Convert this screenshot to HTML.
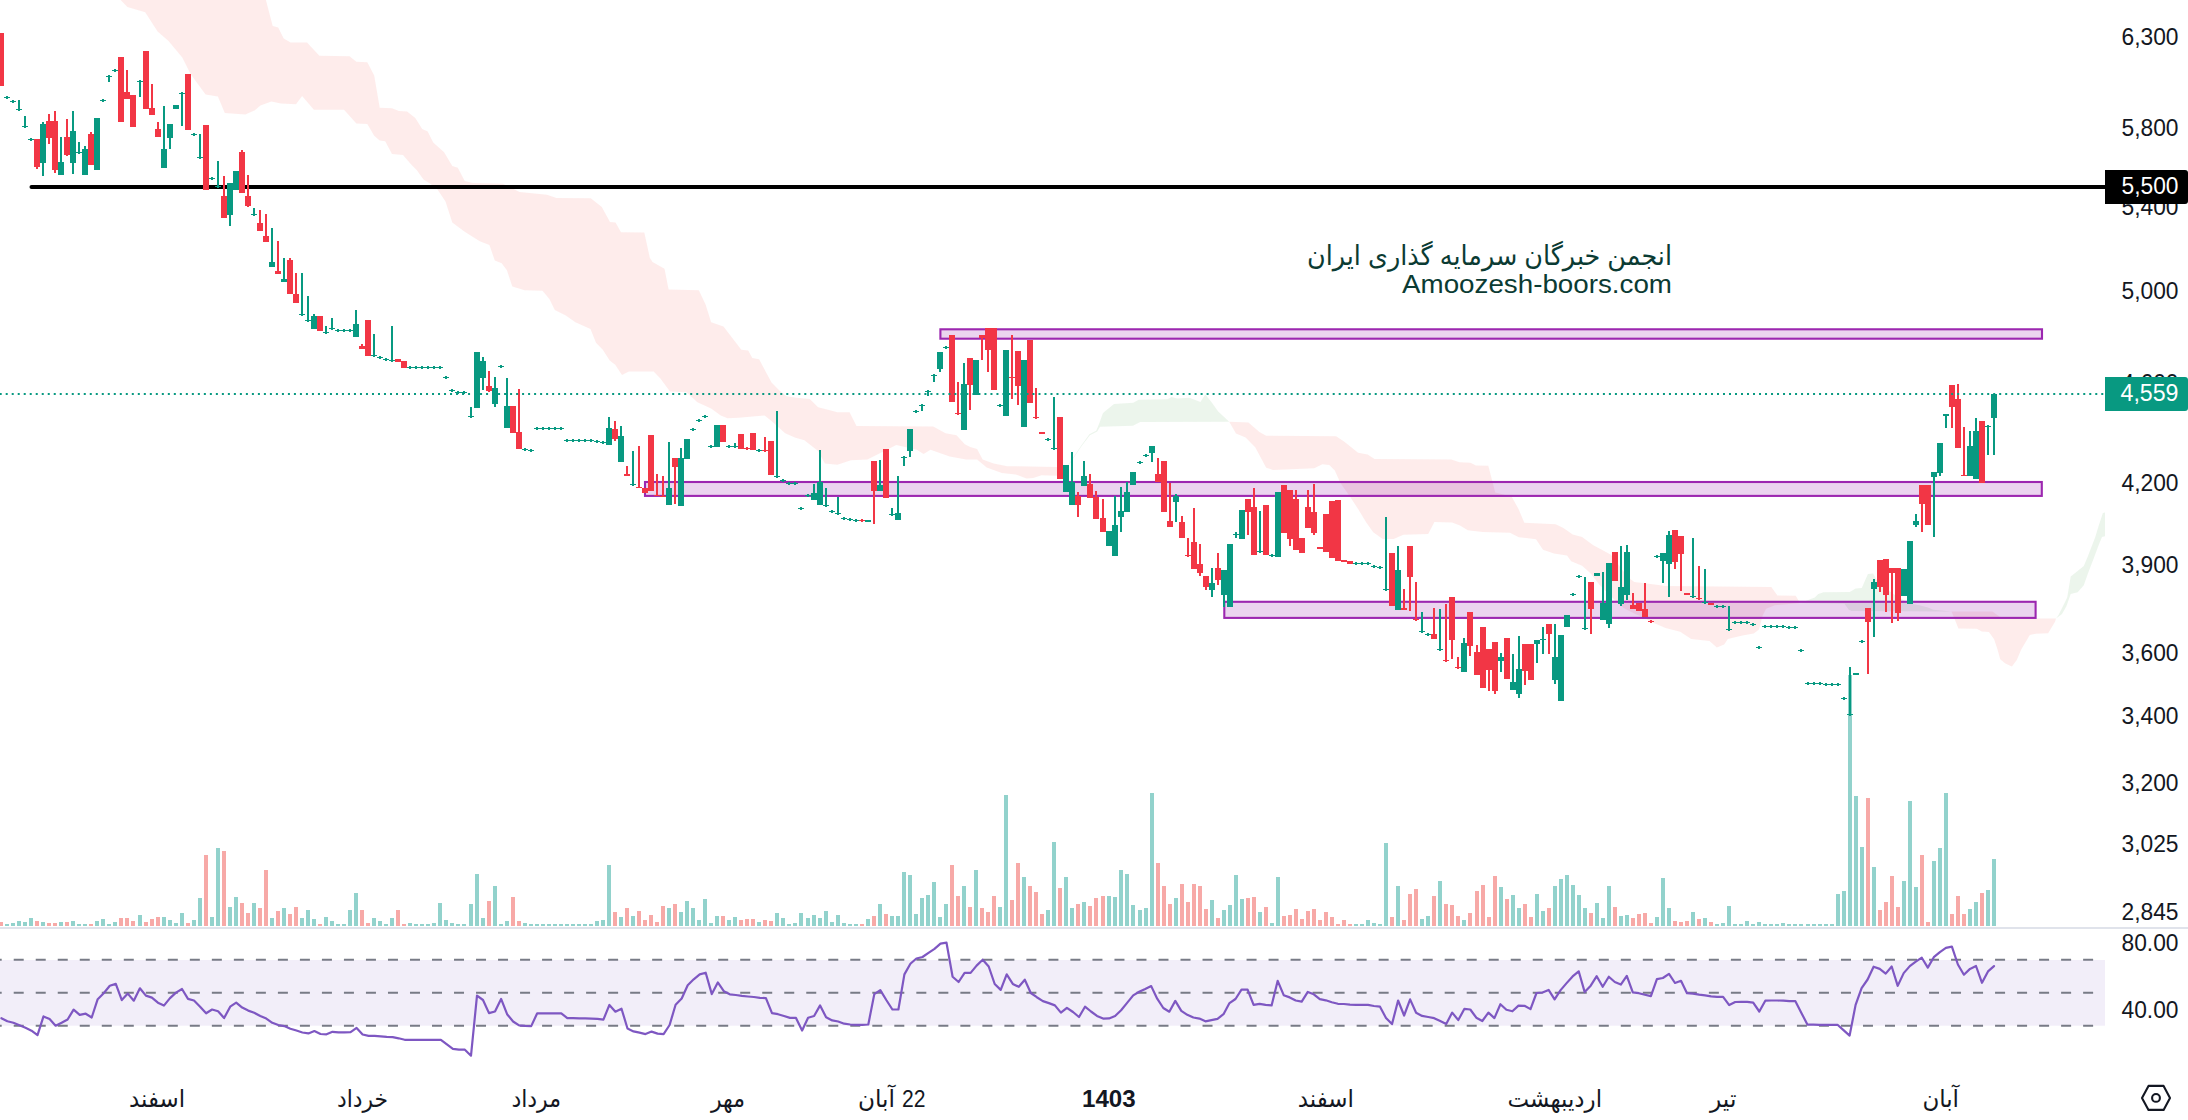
<!DOCTYPE html>
<html lang="fa"><head><meta charset="utf-8"><title>Chart</title>
<style>html,body{margin:0;padding:0;background:#fff}body{width:2188px;height:1120px;overflow:hidden}svg{display:block}text{font-family:"Liberation Sans","DejaVu Sans",sans-serif;fill:#131722}.fa{font-family:"Liberation Sans","DejaVu Sans",sans-serif}</style></head><body>
<svg width="2188" height="1120" viewBox="0 0 2188 1120">
<rect width="2188" height="1120" fill="#fff"/>
<g id="cloud">
<polygon points="265.9,0 272.7,26 278.2,27.4 283.7,38.4 290.6,42.5 307,42.5 319.4,55.7 349.5,56.2 356.4,61.7 367.3,62.2 374.2,75.4 379.7,107.8 392,108.3 398.9,111 407.1,111.6 415.3,117.9 422.2,128.9 427.7,131.6 433.2,142.6 444.1,152.2 452.3,165.9 457.8,167.8 464.7,181 472.9,182.9 503,183.7 519.5,191.9 546.9,194.7 556.5,198 590.8,198.2 601.8,207 610,222.1 615.5,222.6 621,232.2 644.3,232.5 649.8,257.7 652.5,261.9 664.5,268.8 668.6,289.4 698.8,290.2 705.6,304.4 711.1,322.3 723.5,326.4 741.3,349.7 748.2,350.5 752.3,357.9 759.1,359.3 771.5,382.6 779.7,390.8 786.5,396.3 796.1,397.7 809.8,399 818.1,407.3 829,410 837.3,412.2 849.6,412.2 856.5,425.9 933.2,426.5 945.6,433.3 956.5,435.2 964.8,444.3 970.2,447 977.1,448.9 982.6,459.4 993.6,463.5 1007.3,466.2 1056.6,467 1062,470 1062,470 1056.6,475.8 1041.5,475.3 1033.3,478 1026.5,478.6 1015.5,474.4 1001.8,473.1 986.7,467.6 977.1,459.4 966.1,459.4 949.7,456.6 930.5,449.8 923.6,453.9 916.8,449.8 896.2,445.1 889.4,448.4 867.4,459.4 851,460.2 837.3,464.8 824.9,463.5 818.1,451.1 804.4,440.2 794.8,437.4 785.2,433.3 771.5,421 764.6,415.5 738.6,417.7 727.6,418.2 720.7,415.5 711.1,408.6 697.4,402.3 686.5,392.2 670,391.4 660.4,378.5 653.6,371.6 628.9,371.6 622,374.9 615.2,364.8 609.7,360.6 602.8,349.7 596,342.8 590.5,329.1 575.4,322.3 565.8,315.4 554.8,309.9 549.4,299 542.5,290.7 524.7,290.2 512.3,286.6 506.9,270.2 501.7,263.2 494.8,260.5 489.4,244.9 479.8,241.3 464.7,231.7 452.3,222.6 445.5,201.5 437.3,189.2 430.4,183.7 423.5,179.6 416.7,170 411.2,164.5 403,154.9 392,154.1 385.2,141.2 379.7,140.4 374.2,135.7 367.3,123.9 356.4,123.4 344,109.7 313.9,109.7 302.1,96 296,104.2 281,103.6 271.4,101.5 260.4,105.6 254.9,110.2 245.3,114.6 224.8,113 217.9,96.5 205.6,94.6 190.5,74 182.3,57.6 168.5,41.1 157.6,31.5 145.2,12.3 127.4,6.9 120.6,0" fill="rgba(244,67,54,0.1)"/>
<polygon points="1062,470 1070.2,462.3 1081.1,445.8 1089.4,434.3 1096.2,430.7 1099,423.9 1103,412.9 1114,404.1 1133.2,402.8 1138.7,399.7 1167.5,399.2 1171.6,397 1177.1,398.6 1189.4,397.8 1200.4,401.9 1205.3,394.6 1211.4,401.9 1218.2,411.5 1229.2,421.7 1229.2,421.7 1140.2,422.1 1132.9,425.8 1100,426.7 1097.2,431.5 1089.9,435.2 1081.1,446.8 1070.2,463.1 1062,470" fill="rgba(67,160,71,0.1)"/>
<polygon points="1229.2,421.7 1248.4,422.5 1259.4,432.1 1266.2,435.7 1336.1,436.2 1344.4,441.7 1358.1,452.7 1367.7,454.6 1374.5,459 1451.3,459.5 1459.5,462.3 1470.5,462.8 1476,465.6 1488.3,465.8 1492.4,481.5 1495.2,492.4 1511.6,496.5 1518.5,508.9 1524.3,522.7 1555.6,524.2 1563.4,528 1572.7,534.4 1582.1,537.1 1592.9,545 1601.3,549.6 1610.9,554.7 1620.2,566.9 1628,577.2 1634.3,582 1654.6,584.6 1665.6,586 1769.9,587 1771.3,587 1777.4,595.4 1795.7,595.7 1800,602.9 1800,602.9 1774.8,605.3 1766.1,608.8 1762.6,615.8 1759,629.4 1753.7,633.4 1742.5,635.5 1727.8,639.1 1724.2,644.6 1716.8,647.4 1709.5,641 1691.2,639.1 1680.2,631.8 1665.6,628.1 1650.9,621.7 1643.6,617.2 1636.3,614.4 1623.5,608 1616.2,601.6 1599.7,585.1 1590.5,573.2 1582.1,565.8 1571.2,561.2 1567,555.5 1553.9,553.5 1543,549.7 1536,539.2 1518.8,537.2 1510,532.7 1482.5,532 1467.8,530.2 1460,525.5 1452.2,522.5 1434.4,522 1428.2,534 1403.4,534.8 1393.7,539 1382.8,539 1373.2,532.2 1366.3,522.6 1358.1,508.9 1349.9,496.5 1340.3,482.8 1334.8,470.5 1329.3,465 1322.4,464.2 1314.2,468.3 1273.1,469.9 1266.2,467.7 1255.2,447.2 1245.6,437.6 1236,433.5 1229.2,421.7" fill="rgba(244,67,54,0.1)"/>
<polygon points="1800,602.9 1814.8,597.5 1818.3,594 1823.6,592.3 1849.7,591.9 1855.7,588.4 1861.8,587.9 1867.9,574 1873.2,573.6 1877.5,581.8 1885,588 1895,595 1905,601 1912.3,604.1 1919.3,605.3 1928,607.6 1933.2,609.7 1951.5,611.4 1951.5,611.4 1851.4,611 1848.8,609.7 1844.4,603.7 1800,602.9" fill="rgba(67,160,71,0.1)"/>
<polygon points="1951.5,611.4 1992.4,611.4 1999.4,616.6 2004.6,618.4 2056,618.4 2056,618.4 2055,621.8 2048.1,633.2 2035.9,633.7 2029.8,634.9 2021.1,649.7 2016.8,660.1 2011.9,666.6 2005.4,663.6 2000.2,659.3 1997.6,649.7 1994.1,639.3 1988.9,631.9 1981.9,631.4 1976.7,628.8 1958.4,628.5 1955,620.1 1951.5,611.4" fill="rgba(244,67,54,0.1)"/>
<polygon points="2056,618.4 2058.5,614.9 2063.8,604.4 2067.2,597.5 2070.7,576.6 2075.1,573.1 2083.8,566.1 2088.1,555.7 2095.1,537.4 2098.6,526.1 2102.9,513 2105,512.5 2105,536.2 2102,536.9 2098.6,545.3 2093.4,559.2 2088.1,573.1 2083.8,585.3 2077.7,592.3 2070.7,594 2066.4,606.2 2062,614 2056,618.4" fill="rgba(67,160,71,0.1)"/>
</g>
<g id="vol" shape-rendering="crispEdges">
<path d="M5 924.2h4v1.8h-4zM11 923.3h4v2.7h-4zM17 921.2h4v4.8h-4zM23 922.2h4v3.8h-4zM29 918.1h4v7.9h-4zM41 922.2h4v3.8h-4zM59 922.2h4v3.8h-4zM71 921.2h4v4.8h-4zM77 924.2h4v1.8h-4zM83 924.2h4v1.8h-4zM95 921.2h4v4.8h-4zM101 919.2h4v6.8h-4zM107 924.2h4v1.8h-4zM113 922.2h4v3.8h-4zM138 915.2h4v10.8h-4zM162 917.2h4v8.8h-4zM168 920.1h4v5.9h-4zM174 923.3h4v2.7h-4zM180 913.2h4v12.8h-4zM192 920.1h4v5.9h-4zM198 898.2h4v27.8h-4zM210 917.2h4v8.8h-4zM216 848.2h4v77.8h-4zM228 907.1h4v18.9h-4zM234 897.1h4v28.9h-4zM252 903.1h4v22.9h-4zM270 918.1h4v7.9h-4zM282 908.1h4v17.9h-4zM300 918.1h4v7.9h-4zM306 910.3h4v15.7h-4zM312 919.2h4v6.8h-4zM324 917.2h4v8.8h-4zM330 921.2h4v4.8h-4zM336 924.2h4v1.8h-4zM342 924.2h4v1.8h-4zM348 910.3h4v15.7h-4zM354 893.2h4v32.8h-4zM372 918.1h4v7.9h-4zM378 921.2h4v4.8h-4zM384 924.2h4v1.8h-4zM390 918.1h4v7.9h-4zM408 923.3h4v2.7h-4zM414 924.2h4v1.8h-4zM420 924.2h4v1.8h-4zM426 924.2h4v1.8h-4zM432 923.3h4v2.7h-4zM438 903.1h4v22.9h-4zM444 920.1h4v5.9h-4zM450 923.3h4v2.7h-4zM456 924.2h4v1.8h-4zM462 924.2h4v1.8h-4zM469 904.2h4v21.8h-4zM475 874.2h4v51.8h-4zM481 918.1h4v7.9h-4zM493 886.1h4v39.9h-4zM499 924.2h4v1.8h-4zM505 921.2h4v4.8h-4zM523 923.3h4v2.7h-4zM529 924.2h4v1.8h-4zM535 924.2h4v1.8h-4zM541 924.2h4v1.8h-4zM547 924.2h4v1.8h-4zM553 924.2h4v1.8h-4zM559 924.2h4v1.8h-4zM565 924.2h4v1.8h-4zM571 924.2h4v1.8h-4zM577 924.2h4v1.8h-4zM583 924.2h4v1.8h-4zM589 924.2h4v1.8h-4zM595 921.2h4v4.8h-4zM601 920.1h4v5.9h-4zM607 865.2h4v60.8h-4zM619 917.2h4v8.8h-4zM631 916.1h4v9.9h-4zM667 908.1h4v17.9h-4zM679 912.1h4v13.9h-4zM685 901.1h4v24.9h-4zM691 908.1h4v17.9h-4zM697 920.1h4v5.9h-4zM703 899.1h4v26.9h-4zM709 923.3h4v2.7h-4zM715 916.1h4v9.9h-4zM727 920.1h4v5.9h-4zM733 917.2h4v8.8h-4zM757 922.2h4v3.8h-4zM775 913.2h4v12.8h-4zM781 918.1h4v7.9h-4zM787 924.2h4v1.8h-4zM793 923.3h4v2.7h-4zM799 913.2h4v12.8h-4zM806 918.1h4v7.9h-4zM812 915.2h4v10.8h-4zM818 918.1h4v7.9h-4zM824 911.2h4v14.8h-4zM830 922.2h4v3.8h-4zM836 915.2h4v10.8h-4zM842 923.3h4v2.7h-4zM848 924.2h4v1.8h-4zM854 924.2h4v1.8h-4zM866 919.2h4v6.8h-4zM878 904.2h4v21.8h-4zM890 916.1h4v9.9h-4zM896 916.1h4v9.9h-4zM902 872.2h4v53.8h-4zM908 875.1h4v50.9h-4zM914 914.1h4v11.9h-4zM920 898.2h4v27.8h-4zM926 895.2h4v30.8h-4zM932 882.2h4v43.8h-4zM938 917.2h4v8.8h-4zM944 904.2h4v21.8h-4zM962 886.1h4v39.9h-4zM974 870.2h4v55.8h-4zM998 907.1h4v18.9h-4zM1004 795.1h4v130.9h-4zM1022 877.1h4v48.9h-4zM1046 910.3h4v15.7h-4zM1052 842.2h4v83.8h-4zM1064 877.1h4v48.9h-4zM1070 908.1h4v17.9h-4zM1082 902.2h4v23.8h-4zM1107 896.2h4v29.8h-4zM1113 897.1h4v28.9h-4zM1119 870.2h4v55.8h-4zM1125 874.2h4v51.8h-4zM1131 905.1h4v20.9h-4zM1138 910.3h4v15.7h-4zM1144 908.1h4v17.9h-4zM1150 793.1h4v132.9h-4zM1174 898.2h4v27.8h-4zM1210 900.2h4v25.8h-4zM1222 910.3h4v15.7h-4zM1228 905.1h4v20.9h-4zM1234 875.1h4v50.9h-4zM1240 899.1h4v26.9h-4zM1258 912.1h4v13.9h-4zM1270 923.3h4v2.7h-4zM1276 877.1h4v48.9h-4zM1354 924.2h4v1.8h-4zM1360 924.2h4v1.8h-4zM1366 920.1h4v5.9h-4zM1372 923.3h4v2.7h-4zM1378 924.2h4v1.8h-4zM1384 843.1h4v82.9h-4zM1396 886.1h4v39.9h-4zM1420 919.2h4v6.8h-4zM1426 916.1h4v9.9h-4zM1438 881.1h4v44.9h-4zM1462 920.1h4v5.9h-4zM1499 887.2h4v38.8h-4zM1511 895.2h4v30.8h-4zM1517 908.1h4v17.9h-4zM1535 894.1h4v31.9h-4zM1541 911.2h4v14.8h-4zM1553 886.1h4v39.9h-4zM1559 879.1h4v46.9h-4zM1565 875.1h4v50.9h-4zM1571 885.2h4v40.8h-4zM1577 895.2h4v30.8h-4zM1583 908.1h4v17.9h-4zM1595 903.1h4v22.9h-4zM1601 918.1h4v7.9h-4zM1607 886.1h4v39.9h-4zM1619 916.1h4v9.9h-4zM1625 915.2h4v10.8h-4zM1655 917.2h4v8.8h-4zM1661 878.2h4v47.8h-4zM1667 908.1h4v17.9h-4zM1691 912.1h4v13.9h-4zM1703 918.1h4v7.9h-4zM1715 924.2h4v1.8h-4zM1721 923.3h4v2.7h-4zM1727 906.2h4v19.8h-4zM1733 924.2h4v1.8h-4zM1739 924.2h4v1.8h-4zM1745 921.2h4v4.8h-4zM1751 924.2h4v1.8h-4zM1757 922.2h4v3.8h-4zM1763 924.2h4v1.8h-4zM1769 924.2h4v1.8h-4zM1775 924.2h4v1.8h-4zM1781 923.3h4v2.7h-4zM1787 924.2h4v1.8h-4zM1793 924.2h4v1.8h-4zM1799 924.2h4v1.8h-4zM1806 924.2h4v1.8h-4zM1812 924.2h4v1.8h-4zM1818 924.2h4v1.8h-4zM1824 924.2h4v1.8h-4zM1830 924.2h4v1.8h-4zM1836 894.1h4v31.9h-4zM1842 891.2h4v34.8h-4zM1848 675h4v251h-4zM1854 796h4v130h-4zM1860 847.1h4v78.9h-4zM1872 867.2h4v58.8h-4zM1902 881.1h4v44.9h-4zM1908 801h4v125h-4zM1914 887.2h4v38.8h-4zM1932 861.2h4v64.8h-4zM1938 848.2h4v77.8h-4zM1944 793.1h4v132.9h-4zM1968 909.2h4v16.8h-4zM1974 902.2h4v23.8h-4zM1986 890.1h4v35.9h-4zM1992 859.2h4v66.8h-4z" fill="#92d2cc"/>
<path d="M-1 922.2h4v3.8h-4zM35 921.2h4v4.8h-4zM47 923.3h4v2.7h-4zM53 923.3h4v2.7h-4zM65 922.2h4v3.8h-4zM89 924.2h4v1.8h-4zM119 918.1h4v7.9h-4zM125 918.1h4v7.9h-4zM131 921.2h4v4.8h-4zM144 922.2h4v3.8h-4zM150 919.2h4v6.8h-4zM156 917.2h4v8.8h-4zM186 923.3h4v2.7h-4zM204 855.2h4v70.8h-4zM222 851.1h4v74.9h-4zM240 903.1h4v22.9h-4zM246 913.2h4v12.8h-4zM258 908.1h4v17.9h-4zM264 870.2h4v55.8h-4zM276 911.2h4v14.8h-4zM288 914.1h4v11.9h-4zM294 907.1h4v18.9h-4zM318 924.2h4v1.8h-4zM360 910.3h4v15.7h-4zM366 923.3h4v2.7h-4zM396 910.3h4v15.7h-4zM402 924.2h4v1.8h-4zM487 901.1h4v24.9h-4zM511 897.1h4v28.9h-4zM517 921.2h4v4.8h-4zM613 912.1h4v13.9h-4zM625 908.1h4v17.9h-4zM637 911.2h4v14.8h-4zM643 920.1h4v5.9h-4zM649 915.2h4v10.8h-4zM655 922.2h4v3.8h-4zM661 906.2h4v19.8h-4zM673 904.2h4v21.8h-4zM721 916.1h4v9.9h-4zM739 920.1h4v5.9h-4zM745 919.2h4v6.8h-4zM751 919.2h4v6.8h-4zM763 920.1h4v5.9h-4zM769 921.2h4v4.8h-4zM860 924.2h4v1.8h-4zM872 916.1h4v9.9h-4zM884 914.1h4v11.9h-4zM950 865.2h4v60.8h-4zM956 896.2h4v29.8h-4zM968 907.1h4v18.9h-4zM980 908.1h4v17.9h-4zM986 912.1h4v13.9h-4zM992 896.2h4v29.8h-4zM1010 900.2h4v25.8h-4zM1016 863.2h4v62.8h-4zM1028 886.1h4v39.9h-4zM1034 892.1h4v33.9h-4zM1040 914.1h4v11.9h-4zM1058 888.1h4v37.9h-4zM1076 904.2h4v21.8h-4zM1088 906.2h4v19.8h-4zM1094 898.2h4v27.8h-4zM1101 896.2h4v29.8h-4zM1156 863.2h4v62.8h-4zM1162 886.1h4v39.9h-4zM1168 904.2h4v21.8h-4zM1180 884.3h4v41.7h-4zM1186 902.2h4v23.8h-4zM1192 884.3h4v41.7h-4zM1198 886.1h4v39.9h-4zM1204 909.2h4v16.8h-4zM1216 918.1h4v7.9h-4zM1246 898.2h4v27.8h-4zM1252 897.1h4v28.9h-4zM1264 907.1h4v18.9h-4zM1282 916.1h4v9.9h-4zM1288 915.2h4v10.8h-4zM1294 909.2h4v16.8h-4zM1300 919.2h4v6.8h-4zM1306 911.2h4v14.8h-4zM1312 909.2h4v16.8h-4zM1318 920.1h4v5.9h-4zM1324 912.1h4v13.9h-4zM1330 917.2h4v8.8h-4zM1336 924.2h4v1.8h-4zM1342 920.1h4v5.9h-4zM1348 924.2h4v1.8h-4zM1390 917.2h4v8.8h-4zM1402 920.1h4v5.9h-4zM1408 894.1h4v31.9h-4zM1414 889.2h4v36.8h-4zM1432 896.2h4v29.8h-4zM1444 904.2h4v21.8h-4zM1450 905.1h4v20.9h-4zM1456 916.1h4v9.9h-4zM1468 913.2h4v12.8h-4zM1475 891.2h4v34.8h-4zM1481 885.2h4v40.8h-4zM1487 917.2h4v8.8h-4zM1493 876.2h4v49.8h-4zM1505 899.1h4v26.9h-4zM1523 904.2h4v21.8h-4zM1529 917.2h4v8.8h-4zM1547 908.1h4v17.9h-4zM1589 913.2h4v12.8h-4zM1613 907.1h4v18.9h-4zM1631 918.1h4v7.9h-4zM1637 914.1h4v11.9h-4zM1643 913.2h4v12.8h-4zM1649 923.3h4v2.7h-4zM1673 921.2h4v4.8h-4zM1679 922.2h4v3.8h-4zM1685 921.2h4v4.8h-4zM1697 919.2h4v6.8h-4zM1709 922.2h4v3.8h-4zM1866 798h4v128h-4zM1878 910.3h4v15.7h-4zM1884 902.2h4v23.8h-4zM1890 876.2h4v49.8h-4zM1896 907.1h4v18.9h-4zM1920 855.2h4v70.8h-4zM1926 922.2h4v3.8h-4zM1950 914.1h4v11.9h-4zM1956 896.2h4v29.8h-4zM1962 914.1h4v11.9h-4zM1980 893.2h4v32.8h-4z" fill="#f7a9a7"/>
</g>
<g id="zones" fill="rgba(156,39,176,0.2)" stroke="#9c27b0" stroke-width="2.1">
<rect x="940.4" y="329.3" width="1101.6" height="9.4"/>
<rect x="645" y="482" width="1396.8" height="13.9"/>
<rect x="1224.3" y="601.8" width="811.3" height="16.1"/>
</g>
<line x1="31.5" y1="187" x2="2105" y2="187" stroke="#000" stroke-width="4" stroke-linecap="round"/>
<g id="candles">
<path d="M4 97h6v1h-6zM6 96h2v3h-2zM10 101h6v1h-6zM12 100h2v3h-2zM16 109h6v1h-6zM18 100h2v11h-2zM22 126h6v1h-6zM24 116h2v12h-2zM28 139h6v1h-6zM30 138h2v3h-2zM40 124h6v39h-6zM42 122h2v2h-2zM42 163h2v13h-2zM58 162h6v13h-6zM60 137h2v25h-2zM70 131h6v32h-6zM72 111h2v20h-2zM72 163h2v11h-2zM76 152h6v1h-6zM78 142h2v12h-2zM82 149h6v26h-6zM84 146h2v3h-2zM94 118h6v52h-6zM100 100h6v1h-6zM102 99h2v3h-2zM106 76h6v1h-6zM108 75h2v7h-2zM112 70h6v1h-6zM114 69h2v3h-2zM137 81h6v1h-6zM139 80h2v17h-2zM161 149h6v19h-6zM163 106h2v43h-2zM167 124h6v14h-6zM169 138h2v11h-2zM173 105h6v4h-6zM179 93h6v1h-6zM181 92h2v34h-2zM191 134h6v1h-6zM193 133h2v3h-2zM197 157h6v1h-6zM199 134h2v25h-2zM209 178h6v1h-6zM211 177h2v3h-2zM215 186h6v1h-6zM217 161h2v27h-2zM227 183h6v32h-6zM229 215h2v11h-2zM233 171h6v19h-6zM251 214h6v1h-6zM253 208h2v8h-2zM269 262h6v5h-6zM271 228h2v34h-2zM281 279h6v3h-6zM283 258h2v21h-2zM299 314h6v1h-6zM301 273h2v43h-2zM305 320h6v1h-6zM307 296h2v26h-2zM311 316h6v13h-6zM313 314h2v2h-2zM323 332h6v1h-6zM325 326h2v8h-2zM329 328h6v1h-6zM331 318h2v12h-2zM335 330h6v1h-6zM337 329h2v3h-2zM341 330h6v1h-6zM343 329h2v3h-2zM347 330h6v1h-6zM349 329h2v3h-2zM353 324h6v13h-6zM355 310h2v14h-2zM371 355h6v1h-6zM373 334h2v23h-2zM377 357h6v1h-6zM379 356h2v3h-2zM383 359h6v1h-6zM385 358h2v3h-2zM389 360h6v1h-6zM391 326h2v36h-2zM407 367h6v1h-6zM409 366h2v3h-2zM413 367h6v1h-6zM415 366h2v3h-2zM419 367h6v1h-6zM421 366h2v3h-2zM425 367h6v1h-6zM427 366h2v3h-2zM431 367h6v1h-6zM433 366h2v3h-2zM437 367h6v1h-6zM439 366h2v3h-2zM443 377h6v1h-6zM445 376h2v3h-2zM449 390h6v1h-6zM451 389h2v3h-2zM455 392h6v1h-6zM457 391h2v3h-2zM461 392h6v1h-6zM463 391h2v3h-2zM468 416h6v1h-6zM470 407h2v11h-2zM474 352h6v56h-6zM480 361h6v17h-6zM482 357h2v4h-2zM482 378h2v12h-2zM492 388h6v16h-6zM494 377h2v11h-2zM494 404h2v3h-2zM498 366h6v1h-6zM500 365h2v3h-2zM504 406h6v22h-6zM506 378h2v28h-2zM522 449h6v1h-6zM524 448h2v3h-2zM528 450h6v1h-6zM530 449h2v3h-2zM534 428h6v1h-6zM536 427h2v3h-2zM540 428h6v1h-6zM542 427h2v3h-2zM546 428h6v1h-6zM548 427h2v3h-2zM552 428h6v1h-6zM554 427h2v3h-2zM558 428h6v1h-6zM560 427h2v3h-2zM564 440h6v1h-6zM566 439h2v3h-2zM570 440h6v1h-6zM572 439h2v3h-2zM576 440h6v1h-6zM578 439h2v3h-2zM582 440h6v1h-6zM584 439h2v3h-2zM588 440h6v1h-6zM590 439h2v3h-2zM594 441h6v1h-6zM596 440h2v3h-2zM600 442h6v1h-6zM602 441h2v3h-2zM606 428h6v17h-6zM608 417h2v11h-2zM618 436h6v26h-6zM620 426h2v10h-2zM630 484h6v1h-6zM632 451h2v35h-2zM666 488h6v17h-6zM668 442h2v46h-2zM678 458h6v48h-6zM680 448h2v10h-2zM684 439h6v20h-6zM690 429h6v1h-6zM692 428h2v3h-2zM696 420h6v1h-6zM698 419h2v3h-2zM702 416h6v1h-6zM704 415h2v3h-2zM708 446h6v1h-6zM710 445h2v3h-2zM714 425h6v22h-6zM726 446h6v1h-6zM728 445h2v3h-2zM732 446h6v1h-6zM734 443h2v5h-2zM756 450h6v1h-6zM758 449h2v3h-2zM774 476h6v1h-6zM776 411h2v67h-2zM780 480h6v1h-6zM782 479h2v3h-2zM786 483h6v1h-6zM788 482h2v3h-2zM792 483h6v1h-6zM794 482h2v3h-2zM798 508h6v1h-6zM800 507h2v3h-2zM805 495h6v1h-6zM807 494h2v3h-2zM811 493h6v7h-6zM813 484h2v9h-2zM817 482h6v23h-6zM819 450h2v32h-2zM823 505h6v1h-6zM825 488h2v19h-2zM829 511h6v1h-6zM831 510h2v3h-2zM835 513h6v1h-6zM837 497h2v18h-2zM841 518h6v1h-6zM843 517h2v3h-2zM847 519h6v1h-6zM849 518h2v3h-2zM853 520h6v1h-6zM855 519h2v3h-2zM865 520h6v2h-6zM877 485h6v6h-6zM879 460h2v25h-2zM889 514h6v1h-6zM891 508h2v8h-2zM895 513h6v7h-6zM897 476h2v37h-2zM901 457h6v1h-6zM903 456h2v10h-2zM907 429h6v22h-6zM909 451h2v6h-2zM913 411h6v1h-6zM915 410h2v3h-2zM919 405h6v1h-6zM921 404h2v7h-2zM925 391h6v1h-6zM927 390h2v6h-2zM931 375h6v1h-6zM933 374h2v8h-2zM937 352h6v17h-6zM939 369h2v3h-2zM943 347h6v1h-6zM945 346h2v3h-2zM961 384h6v46h-6zM963 363h2v21h-2zM973 360h6v35h-6zM997 405h6v1h-6zM999 404h2v3h-2zM1003 350h6v66h-6zM1021 360h6v67h-6zM1045 439h6v1h-6zM1047 438h2v3h-2zM1051 448h6v1h-6zM1053 397h2v53h-2zM1063 465h6v27h-6zM1069 482h6v23h-6zM1071 452h2v30h-2zM1081 476h6v10h-6zM1083 461h2v15h-2zM1106 531h6v15h-6zM1112 525h6v31h-6zM1114 496h2v29h-2zM1118 511h6v6h-6zM1120 487h2v24h-2zM1120 517h2v15h-2zM1124 492h6v20h-6zM1126 482h2v10h-2zM1130 472h6v13h-6zM1137 462h6v1h-6zM1139 461h2v3h-2zM1143 455h6v1h-6zM1145 454h2v3h-2zM1149 446h6v7h-6zM1151 453h2v9h-2zM1173 496h6v6h-6zM1175 494h2v2h-2zM1175 502h2v20h-2zM1209 583h6v7h-6zM1211 568h2v15h-2zM1211 590h2v7h-2zM1221 570h6v25h-6zM1223 595h2v12h-2zM1227 544h6v63h-6zM1233 534h6v1h-6zM1235 532h2v6h-2zM1239 510h6v29h-6zM1257 551h6v1h-6zM1259 511h2v42h-2zM1269 555h6v1h-6zM1271 554h2v3h-2zM1275 492h6v65h-6zM1353 563h6v1h-6zM1355 562h2v3h-2zM1359 563h6v1h-6zM1361 562h2v3h-2zM1365 563h6v1h-6zM1367 562h2v3h-2zM1371 566h6v1h-6zM1373 565h2v3h-2zM1377 567h6v1h-6zM1379 566h2v3h-2zM1383 589h6v1h-6zM1385 517h2v74h-2zM1395 570h6v40h-6zM1397 546h2v24h-2zM1419 631h6v1h-6zM1421 612h2v21h-2zM1425 634h6v1h-6zM1427 633h2v3h-2zM1437 649h6v1h-6zM1439 609h2v42h-2zM1461 643h6v29h-6zM1463 638h2v5h-2zM1498 657h6v4h-6zM1500 653h2v4h-2zM1500 661h2v11h-2zM1510 682h6v8h-6zM1512 654h2v28h-2zM1516 669h6v25h-6zM1518 636h2v33h-2zM1518 694h2v4h-2zM1534 640h6v4h-6zM1536 644h2v19h-2zM1540 639h6v1h-6zM1542 627h2v27h-2zM1552 657h6v23h-6zM1554 624h2v33h-2zM1554 680h2v4h-2zM1558 635h6v66h-6zM1564 615h6v12h-6zM1570 594h6v1h-6zM1572 593h2v3h-2zM1576 576h6v1h-6zM1578 575h2v3h-2zM1582 628h6v1h-6zM1584 577h2v53h-2zM1594 573h6v3h-6zM1600 603h6v17h-6zM1602 572h2v31h-2zM1606 563h6v61h-6zM1608 624h2v4h-2zM1618 587h6v17h-6zM1620 546h2v41h-2zM1620 604h2v2h-2zM1624 552h6v43h-6zM1626 545h2v7h-2zM1626 595h2v5h-2zM1654 556h6v1h-6zM1656 555h2v3h-2zM1660 553h6v8h-6zM1662 561h2v22h-2zM1666 535h6v29h-6zM1668 531h2v4h-2zM1668 564h2v33h-2zM1690 596h6v1h-6zM1692 538h2v60h-2zM1702 602h6v1h-6zM1704 569h2v35h-2zM1714 606h6v1h-6zM1716 605h2v3h-2zM1720 606h6v1h-6zM1722 605h2v3h-2zM1726 629h6v1h-6zM1728 606h2v25h-2zM1732 622h6v1h-6zM1734 621h2v3h-2zM1738 622h6v1h-6zM1740 621h2v3h-2zM1744 622h6v1h-6zM1746 621h2v3h-2zM1750 624h6v1h-6zM1752 623h2v3h-2zM1756 647h6v1h-6zM1758 646h2v3h-2zM1762 626h6v1h-6zM1764 625h2v3h-2zM1768 626h6v1h-6zM1770 625h2v3h-2zM1774 626h6v1h-6zM1776 625h2v3h-2zM1780 626h6v1h-6zM1782 625h2v3h-2zM1786 627h6v1h-6zM1788 626h2v3h-2zM1792 627h6v1h-6zM1794 626h2v3h-2zM1798 650h6v1h-6zM1800 649h2v3h-2zM1805 683h6v1h-6zM1807 682h2v3h-2zM1811 683h6v1h-6zM1813 682h2v3h-2zM1817 683h6v1h-6zM1819 682h2v3h-2zM1823 684h6v1h-6zM1825 683h2v3h-2zM1829 684h6v1h-6zM1831 683h2v3h-2zM1835 684h6v1h-6zM1837 683h2v3h-2zM1841 698h6v1h-6zM1843 697h2v3h-2zM1847 714h6v1h-6zM1849 667h2v49h-2zM1853 673h6v2h-6zM1859 641h6v1h-6zM1861 640h2v3h-2zM1871 582h6v7h-6zM1873 579h2v3h-2zM1873 589h2v48h-2zM1901 569h6v27h-6zM1907 541h6v63h-6zM1913 521h6v4h-6zM1915 514h2v7h-2zM1915 525h2v2h-2zM1931 472h6v5h-6zM1933 477h2v60h-2zM1937 443h6v30h-6zM1939 473h2v3h-2zM1943 414h6v2h-6zM1945 416h2v12h-2zM1967 446h6v30h-6zM1969 431h2v15h-2zM1973 431h6v48h-6zM1975 418h2v13h-2zM1985 426h6v1h-6zM1987 425h2v30h-2zM1991 394h6v24h-6zM1993 418h2v37h-2z" fill="#089981"/>
<path d="M-2 33h6v53h-6zM34 139h6v28h-6zM36 167h2v2h-2zM46 121h6v17h-6zM48 114h2v7h-2zM48 138h2v6h-2zM52 121h6v49h-6zM54 111h2v10h-2zM54 170h2v3h-2zM64 137h6v18h-6zM66 119h2v18h-2zM66 155h2v1h-2zM88 134h6v31h-6zM90 132h2v2h-2zM118 57h6v65h-6zM124 92h6v7h-6zM126 70h2v22h-2zM130 95h6v32h-6zM143 51h6v58h-6zM149 108h6v7h-6zM151 84h2v24h-2zM155 129h6v8h-6zM157 122h2v7h-2zM185 74h6v56h-6zM203 125h6v65h-6zM221 196h6v22h-6zM223 176h2v20h-2zM239 152h6v41h-6zM241 150h2v2h-2zM245 196h6v10h-6zM247 175h2v21h-2zM247 206h2v1h-2zM257 223h6v8h-6zM259 210h2v13h-2zM263 236h6v6h-6zM265 214h2v22h-2zM275 271h6v3h-6zM277 241h2v30h-2zM287 260h6v34h-6zM289 258h2v2h-2zM293 294h6v9h-6zM295 273h2v21h-2zM317 316h6v15h-6zM359 346h6v3h-6zM361 344h2v2h-2zM365 320h6v36h-6zM395 359h6v3h-6zM401 361h6v7h-6zM486 386h6v5h-6zM488 371h2v15h-2zM488 391h2v1h-2zM510 406h6v27h-6zM516 432h6v17h-6zM518 389h2v43h-2zM612 429h6v10h-6zM614 421h2v8h-2zM614 439h2v2h-2zM624 474h6v2h-6zM626 466h2v8h-2zM636 487h6v1h-6zM638 446h2v41h-2zM642 488h6v5h-6zM648 435h6v56h-6zM654 495h6v1h-6zM656 474h2v21h-2zM660 496h6v1h-6zM662 476h2v20h-2zM672 458h6v9h-6zM674 467h2v37h-2zM720 425h6v17h-6zM738 434h6v15h-6zM744 448h6v1h-6zM746 447h2v3h-2zM750 433h6v17h-6zM762 450h6v1h-6zM764 437h2v15h-2zM768 441h6v34h-6zM859 520h6v1h-6zM861 519h2v3h-2zM871 461h6v30h-6zM873 491h2v33h-2zM883 449h6v49h-6zM949 335h6v67h-6zM955 413h6v1h-6zM957 382h2v33h-2zM967 358h6v27h-6zM969 385h2v25h-2zM979 335h6v3h-6zM981 338h2v22h-2zM985 328h6v22h-6zM987 350h2v22h-2zM991 328h6v62h-6zM1009 377h6v1h-6zM1011 335h2v64h-2zM1015 351h6v35h-6zM1017 386h2v19h-2zM1027 340h6v63h-6zM1033 417h6v1h-6zM1035 388h2v31h-2zM1039 432h6v2h-6zM1057 417h6v62h-6zM1075 496h6v9h-6zM1077 492h2v4h-2zM1077 505h2v12h-2zM1087 484h6v14h-6zM1089 474h2v10h-2zM1093 497h6v22h-6zM1095 491h2v6h-2zM1100 518h6v14h-6zM1102 499h2v19h-2zM1155 474h6v8h-6zM1157 458h2v16h-2zM1161 461h6v51h-6zM1167 521h6v6h-6zM1169 483h2v38h-2zM1179 522h6v16h-6zM1181 516h2v6h-2zM1185 555h6v1h-6zM1187 538h2v19h-2zM1191 542h6v27h-6zM1193 508h2v34h-2zM1197 564h6v9h-6zM1199 544h2v20h-2zM1199 573h2v3h-2zM1203 576h6v11h-6zM1205 587h2v3h-2zM1215 568h6v12h-6zM1217 553h2v15h-2zM1217 580h2v5h-2zM1245 499h6v13h-6zM1247 512h2v23h-2zM1251 507h6v48h-6zM1253 488h2v19h-2zM1263 505h6v50h-6zM1281 485h6v48h-6zM1287 490h6v49h-6zM1289 539h2v7h-2zM1293 499h6v51h-6zM1295 490h2v9h-2zM1299 538h6v15h-6zM1305 507h6v21h-6zM1307 490h2v17h-2zM1311 512h6v21h-6zM1313 484h2v28h-2zM1313 533h2v2h-2zM1317 547h6v2h-6zM1323 514h6v38h-6zM1329 501h6v57h-6zM1335 500h6v61h-6zM1341 560h6v2h-6zM1347 561h6v3h-6zM1389 553h6v53h-6zM1401 608h6v2h-6zM1403 589h2v19h-2zM1407 546h6v31h-6zM1409 577h2v34h-2zM1413 619h6v1h-6zM1415 582h2v39h-2zM1431 634h6v5h-6zM1433 608h2v26h-2zM1443 660h6v1h-6zM1445 604h2v58h-2zM1449 597h6v43h-6zM1451 640h2v19h-2zM1455 667h6v1h-6zM1457 657h2v12h-2zM1467 612h6v34h-6zM1469 646h2v10h-2zM1474 652h6v23h-6zM1476 645h2v7h-2zM1480 627h6v61h-6zM1486 649h6v21h-6zM1488 670h2v21h-2zM1492 642h6v49h-6zM1494 691h2v3h-2zM1504 638h6v41h-6zM1522 644h6v27h-6zM1524 671h2v14h-2zM1528 644h6v36h-6zM1546 624h6v10h-6zM1548 634h2v20h-2zM1588 582h6v27h-6zM1590 609h2v25h-2zM1612 552h6v29h-6zM1630 605h6v4h-6zM1632 593h2v12h-2zM1636 603h6v8h-6zM1642 609h6v8h-6zM1644 583h2v26h-2zM1648 621h6v1h-6zM1650 620h2v3h-2zM1672 530h6v32h-6zM1674 562h2v7h-2zM1678 536h6v18h-6zM1680 554h2v37h-2zM1684 593h6v2h-6zM1696 598h6v1h-6zM1698 566h2v34h-2zM1708 603h6v2h-6zM1865 608h6v14h-6zM1867 622h2v52h-2zM1877 560h6v27h-6zM1879 587h2v5h-2zM1883 559h6v36h-6zM1885 595h2v17h-2zM1889 568h6v5h-6zM1891 573h2v50h-2zM1895 568h6v45h-6zM1897 613h2v8h-2zM1919 485h6v19h-6zM1921 504h2v28h-2zM1925 485h6v40h-6zM1949 385h6v22h-6zM1951 407h2v21h-2zM1955 399h6v49h-6zM1957 384h2v15h-2zM1961 475h6v1h-6zM1963 427h2v48h-2zM1979 421h6v62h-6z" fill="#f23645"/>
</g>
<line x1="-0.3" y1="394" x2="2105" y2="394" stroke="#089981" stroke-width="2" stroke-dasharray="2 4.0045"/>
<rect x="0" y="927" width="2188" height="2" fill="#e0e3eb"/>
<g id="rsi">
<rect x="0" y="960" width="2105" height="65.7" fill="rgba(126,87,194,0.1)"/>
<line x1="-8.3" y1="959.8" x2="2105" y2="959.8" stroke="#787b86" stroke-width="2" stroke-dasharray="10 12.015"/>
<line x1="-8.3" y1="992.8" x2="2105" y2="992.8" stroke="#787b86" stroke-width="2" stroke-dasharray="10 12.015"/>
<line x1="-8.3" y1="1025.7" x2="2105" y2="1025.7" stroke="#787b86" stroke-width="2" stroke-dasharray="10 12.015"/>
<polyline points="1.4,1018.2 7.4,1021.3 13.4,1022.8 19.5,1025.2 25.5,1027.7 31.5,1030.7 37.5,1035.2 43.5,1016.4 49.6,1019.1 55.6,1025.7 61.6,1022.8 67.6,1019.5 73.6,1009.6 79.7,1014.9 85.7,1013.7 91.7,1017.5 97.7,999.2 103.7,993.2 109.8,985.7 115.8,983.9 121.8,1000.1 127.8,993.6 133.8,1000.7 139.9,988.3 145.9,995.6 151.9,997.6 157.9,1002.7 163.9,1005.6 170,998.1 176,992.6 182,989 188,998.9 194,1000.5 200.1,1006.7 206.1,1013.3 212.1,1009.5 218.1,1011.3 224.1,1018.1 230.2,1006.7 236.2,1002.7 242.2,1007.6 248.2,1010.6 254.2,1012.8 260.3,1016 266.3,1018.6 272.3,1022.8 278.3,1025 284.3,1026.1 290.4,1028.7 296.4,1030.5 302.4,1032.5 308.4,1033.4 314.4,1031 320.5,1034 326.5,1034.3 332.5,1031.8 338.5,1032.3 344.5,1032.3 350.6,1032.1 356.6,1027.9 362.6,1034.5 368.6,1035.8 374.6,1035.8 380.7,1036.3 386.7,1036.9 392.7,1037.1 398.7,1038.3 404.7,1039.8 410.8,1039.8 416.8,1039.8 422.8,1039.8 428.8,1039.8 434.8,1039.8 440.9,1039.8 446.9,1044.4 452.9,1048.9 458.9,1049.7 464.9,1049.7 471,1055.7 477,995.6 483,1000 489,1013.1 495,1011.5 501.1,998.9 507.1,1014.2 513.1,1021.5 519.1,1025.4 525.1,1025.9 531.2,1026.1 537.2,1013.3 543.2,1013.3 549.2,1013.3 555.2,1013.3 561.3,1013.3 567.3,1018.1 573.3,1018.2 579.3,1018.4 585.3,1018.4 591.4,1018.6 597.4,1018.8 603.4,1019.7 609.4,1004.9 615.4,1011.7 621.5,1008.7 627.5,1028.5 633.5,1031.4 639.5,1032.7 645.5,1034.1 651.6,1031.6 657.6,1033.6 663.6,1034.1 669.6,1025 675.6,1004.7 681.7,998.5 687.7,985.3 693.7,979.3 699.7,974.4 705.7,972.7 711.8,994.1 717.8,982.4 723.8,991.2 729.8,994.3 735.8,995 741.9,995.9 747.9,996.5 753.9,997 759.9,997.8 765.9,998.1 772,1013.1 778,1014.2 784,1016 790,1017.9 796,1017.9 802.1,1030.5 808.1,1017.7 814.1,1016 820.1,1005.4 826.1,1017.3 832.2,1020.4 838.2,1021.5 844.2,1023.7 850.2,1024.5 856.2,1024.8 862.3,1024.8 868.3,1024.5 874.3,994.1 880.3,990.1 886.3,1000 892.4,1009.5 898.4,1009.5 904.4,974.4 910.4,963.8 916.4,958.5 922.5,957 928.5,952.8 934.5,948.8 940.5,943.6 946.5,942.7 952.6,976.7 958.6,982 964.6,972.9 970.6,972.9 976.6,965.6 982.7,959.7 988.7,966.5 994.7,984 1000.7,989.9 1006.7,974.4 1012.8,983.9 1018.8,986.8 1024.8,979.7 1030.8,993 1036.8,997.2 1042.9,1001.1 1048.9,1003.1 1054.9,1005.4 1060.9,1012.6 1066.9,1007.8 1073,1012 1079,1017 1085,1006.7 1091,1011.5 1097,1015.9 1103.1,1018.6 1109.1,1018.4 1115.1,1016 1121.1,1010.2 1127.1,1002.9 1133.2,995.4 1139.2,991.7 1145.2,989 1151.2,986.1 1157.2,998.7 1163.3,1008 1169.3,1011.7 1175.3,1000.9 1181.3,1010.9 1187.3,1014.8 1193.4,1017.5 1199.4,1018.6 1205.4,1021.3 1211.4,1020.1 1217.5,1018.8 1223.5,1014.2 1229.5,1003.1 1235.5,999 1241.5,989.7 1247.6,989.7 1253.6,1004.9 1259.6,1003.8 1265.6,1004.9 1271.6,1005.4 1277.7,980.8 1283.7,995.2 1289.7,997.4 1295.7,1000.5 1301.7,1001.6 1307.8,991.9 1313.8,994.3 1319.8,999.2 1325.8,1000.3 1331.8,1002.3 1337.9,1003.8 1343.9,1004 1349.9,1004.7 1355.9,1004.9 1361.9,1004.9 1368,1004.9 1374,1006 1380,1006.7 1386,1017.9 1392,1024.1 1398.1,1000.5 1404.1,1015.5 1410.1,999.4 1416.1,1012.8 1422.1,1015.9 1428.2,1017 1434.2,1018.2 1440.2,1021 1446.2,1023.9 1452.2,1012.6 1458.3,1020.1 1464.3,1008.9 1470.3,1009.5 1476.3,1017.7 1482.3,1021 1488.4,1012.6 1494.4,1018.1 1500.4,1004.2 1506.4,1009.8 1512.4,1011.3 1518.5,1005.6 1524.5,1005.8 1530.5,1009.1 1536.5,993 1542.5,992.5 1548.6,989.9 1554.6,999.4 1560.6,990.1 1566.6,983.1 1572.6,976.4 1578.7,971.3 1584.7,992.1 1590.7,985.7 1596.7,976.2 1602.7,986.8 1608.8,976.7 1614.8,982 1620.8,984.6 1626.8,975.8 1632.8,992.3 1638.9,993.2 1644.9,994.7 1650.9,996.1 1656.9,979.1 1662.9,978 1669,973.8 1675,983 1681,980.8 1687,993.2 1693,993.6 1699.1,994.7 1705.1,995.4 1711.1,996.3 1717.1,996.8 1723.1,996.8 1729.2,1005.1 1735.2,1002 1741.2,1001.8 1747.2,1001.8 1753.2,1002.7 1759.3,1011.5 1765.3,1000.7 1771.3,1000.5 1777.3,1000.5 1783.3,1000.7 1789.4,1001.2 1795.4,1001.2 1801.4,1012.9 1807.4,1024.6 1813.4,1024.6 1819.5,1024.8 1825.5,1024.8 1831.5,1024.8 1837.5,1024.8 1843.5,1030.1 1849.6,1035.6 1855.6,1004.9 1861.6,988.1 1867.6,979.5 1873.6,966.7 1879.7,968.9 1885.7,973.6 1891.7,966.5 1897.7,985.9 1903.7,973.1 1909.8,966.1 1915.8,961.6 1921.8,957.7 1927.8,967.6 1933.8,957.2 1939.9,952.1 1945.9,947.9 1951.9,946.6 1957.9,964.5 1963.9,974.7 1970,968.9 1976,966 1982,982.8 1988,971.4 1994,966.1" fill="none" stroke="#7e57c2" stroke-width="2.2" stroke-linejoin="round" stroke-linecap="round"/>
</g>
<text x="2121.5" y="44.8" font-size="24" textLength="57" lengthAdjust="spacingAndGlyphs" style="fill:#131722">6,300</text>
<text x="2121.5" y="135.8" font-size="24" textLength="57" lengthAdjust="spacingAndGlyphs" style="fill:#131722">5,800</text>
<text x="2121.5" y="214.5" font-size="24" textLength="57" lengthAdjust="spacingAndGlyphs" style="fill:#131722">5,400</text>
<text x="2121.5" y="299.2" font-size="24" textLength="57" lengthAdjust="spacingAndGlyphs" style="fill:#131722">5,000</text>
<text x="2121.5" y="391" font-size="24" textLength="57" lengthAdjust="spacingAndGlyphs" style="fill:#131722">4,600</text>
<text x="2121.5" y="491.1" font-size="24" textLength="57" lengthAdjust="spacingAndGlyphs" style="fill:#131722">4,200</text>
<text x="2121.5" y="572.7" font-size="24" textLength="57" lengthAdjust="spacingAndGlyphs" style="fill:#131722">3,900</text>
<text x="2121.5" y="660.8" font-size="24" textLength="57" lengthAdjust="spacingAndGlyphs" style="fill:#131722">3,600</text>
<text x="2121.5" y="723.7" font-size="24" textLength="57" lengthAdjust="spacingAndGlyphs" style="fill:#131722">3,400</text>
<text x="2121.5" y="790.5" font-size="24" textLength="57" lengthAdjust="spacingAndGlyphs" style="fill:#131722">3,200</text>
<text x="2121.5" y="852.4" font-size="24" textLength="57" lengthAdjust="spacingAndGlyphs" style="fill:#131722">3,025</text>
<text x="2121.5" y="919.9" font-size="24" textLength="57" lengthAdjust="spacingAndGlyphs" style="fill:#131722">2,845</text>
<text x="2121.5" y="951.1" font-size="24" textLength="57" lengthAdjust="spacingAndGlyphs" style="fill:#131722">80.00</text>
<text x="2121.5" y="1018.1" font-size="24" textLength="57" lengthAdjust="spacingAndGlyphs" style="fill:#131722">40.00</text>
<path d="M2105 170h80a3 3 0 0 1 3 3v28a3 3 0 0 1-3 3h-80z" fill="#000"/>
<text x="2121.5" y="194" font-size="24" textLength="57" lengthAdjust="spacingAndGlyphs" style="fill:#fff">5,500</text>
<path d="M2105 377h80a3 3 0 0 1 3 3v28a3 3 0 0 1-3 3h-80z" fill="#089981"/>
<text x="2120.5" y="401.2" font-size="24" textLength="58" lengthAdjust="spacingAndGlyphs" style="fill:#fff">4,559</text>
<text class="fa" x="1307" y="265" font-size="27" style="fill:#0b3b33" textLength="365" lengthAdjust="spacingAndGlyphs">انجمن خبرگان سرمایه گذاری ایران</text>
<text x="1402" y="292.5" font-size="26" style="fill:#0b3b33" textLength="270" lengthAdjust="spacingAndGlyphs">Amoozesh-boors.com</text>
<text class="fa" x="129" y="1107" font-size="24" textLength="56" lengthAdjust="spacingAndGlyphs">اسفند</text>
<text class="fa" x="337" y="1107" font-size="24" textLength="51" lengthAdjust="spacingAndGlyphs">خرداد</text>
<text class="fa" x="511.4" y="1107" font-size="24" textLength="49.6" lengthAdjust="spacingAndGlyphs">مرداد</text>
<text class="fa" x="711" y="1107" font-size="24" textLength="34" lengthAdjust="spacingAndGlyphs">مهر</text>
<text class="fa" x="858" y="1107" font-size="24" textLength="37" lengthAdjust="spacingAndGlyphs">آبان</text>
<text x="902" y="1107" font-size="24" textLength="23.5" lengthAdjust="spacingAndGlyphs">22</text>
<text x="1082" y="1107" font-size="24" textLength="53.6" lengthAdjust="spacingAndGlyphs" font-weight="bold">1403</text>
<text class="fa" x="1297.7" y="1107" font-size="24" textLength="56.3" lengthAdjust="spacingAndGlyphs">اسفند</text>
<text class="fa" x="1507.6" y="1107" font-size="24" textLength="94.4" lengthAdjust="spacingAndGlyphs">اردیبهشت</text>
<text class="fa" x="1710" y="1107" font-size="24" textLength="26.4" lengthAdjust="spacingAndGlyphs">تیر</text>
<text class="fa" x="1922.4" y="1107" font-size="24" textLength="36.6" lengthAdjust="spacingAndGlyphs">آبان</text>
<g fill="none" stroke="#131722" stroke-width="2.1" stroke-linejoin="round">
<polygon points="2142,1097.9 2148.5,1085.9 2163.6,1085.9 2170,1097.9 2163.6,1109.9 2148.5,1109.9"/>
<circle cx="2156" cy="1097.9" r="3.9"/>
</g>
</svg></body></html>
